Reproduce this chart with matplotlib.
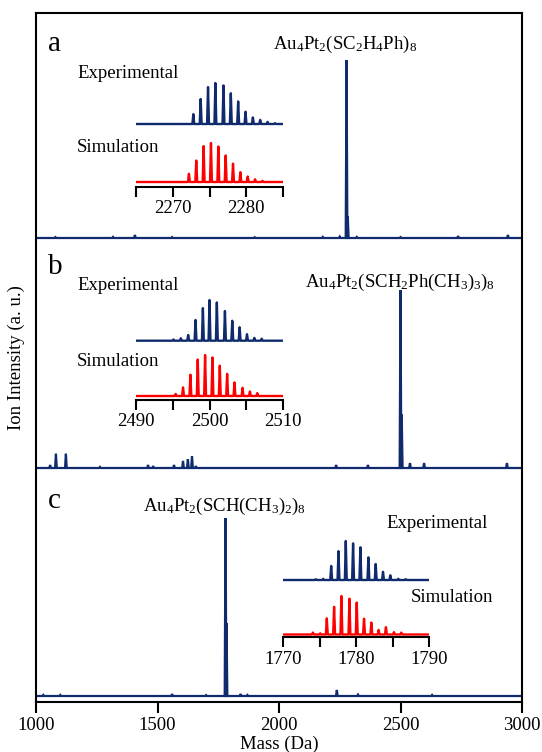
import numpy as np
import matplotlib
matplotlib.use('Agg')
from matplotlib import pyplot as plt

plt.rcParams['font.family'] = ['Liberation Serif', 'DejaVu Serif']
plt.rcParams['mathtext.fontset'] = 'custom'
plt.rcParams['mathtext.rm'] = 'Liberation Serif'
plt.rcParams['mathtext.it'] = 'Liberation Serif:italic'

navy = '#0f2b6e'
red = '#ff0000'
W, H = 542, 752

# main spectra (mass in Da, intensity relative to the main peak)
mass_a = [1080, 1317, 1407, 1560, 1900, 2180, 2250, 2278, 2283, 2320, 2500, 2737, 2942]
int_a = [0.005, 0.006, 0.017, 0.005, 0.004, 0.006, 0.008, 1.0, 0.12, 0.006, 0.005, 0.011, 0.017]

mass_b = [1058, 1082, 1123, 1263, 1461, 1482, 1568, 1605, 1625, 1642, 1658,
          2235, 2366, 2500, 2505, 2539, 2597, 2938]
int_b = [0.017, 0.08, 0.08, 0.006, 0.017, 0.011, 0.017, 0.04, 0.05, 0.067, 0.011,
         0.017, 0.017, 1.0, 0.3, 0.028, 0.028, 0.028]

mass_c = [1030, 1100, 1560, 1700, 1780, 1784, 1842, 1870, 2238, 2325, 2630]
int_c = [0.006, 0.006, 0.011, 0.005, 1.0, 0.41, 0.011, 0.006, 0.034, 0.008, 0.006]

# isotope patterns of the insets
exp_mass_a = [2272.8, 2273.8, 2274.8, 2275.8, 2276.9, 2277.9, 2278.9, 2279.9, 2280.9, 2281.9, 2282.9, 2283.9]
exp_int_a = [0.24, 0.61, 0.90, 1.0, 0.94, 0.75, 0.55, 0.30, 0.16, 0.10, 0.05, 0.02]
sim_mass_a = [2272.2, 2273.2, 2274.2, 2275.2, 2276.2, 2277.2, 2278.2, 2279.2, 2280.2, 2281.2, 2282.2]
sim_int_a = [0.21, 0.55, 0.92, 1.0, 0.91, 0.68, 0.47, 0.25, 0.14, 0.07, 0.03]

exp_mass_b = [2495.1, 2496.1, 2497.1, 2498.1, 2499.1, 2500.0, 2501.0, 2502.1, 2503.1, 2504.1, 2505.1, 2506.1, 2507.1]
exp_int_b = [0.03, 0.06, 0.14, 0.51, 0.80, 1.0, 0.94, 0.73, 0.49, 0.33, 0.16, 0.07, 0.05]
sim_mass_b = [2495.4, 2496.4, 2497.4, 2498.4, 2499.4, 2500.4, 2501.4, 2502.4, 2503.4, 2504.5, 2505.5, 2506.5]
sim_int_b = [0.05, 0.21, 0.52, 0.89, 1.0, 0.94, 0.74, 0.54, 0.33, 0.20, 0.11, 0.07]

exp_mass_c = [1774.5, 1775.5, 1776.6, 1777.6, 1778.6, 1779.6, 1780.6, 1781.7, 1782.7, 1783.7, 1784.7, 1785.8, 1786.8]
exp_int_c = [0.02, 0.03, 0.36, 0.74, 1.0, 0.94, 0.84, 0.58, 0.41, 0.21, 0.12, 0.03, 0.02]
sim_mass_c = [1774.1, 1775.1, 1776.0, 1777.0, 1778.0, 1779.1, 1780.1, 1781.1, 1782.1, 1783.1, 1784.1, 1785.2, 1786.2]
sim_int_c = [0.05, 0.03, 0.42, 0.72, 1.0, 0.93, 0.83, 0.41, 0.31, 0.12, 0.19, 0.06, 0.05]

ticks_main = [1000, 1500, 2000, 2500, 3000]
labels = ['a', 'b', 'c']
formulas = [r'Au$_4$Pt$_2$(SC$_2$H$_4$Ph)$_8$',
            r'Au$_4$Pt$_2$(SCH$_2$Ph(CH$_3$)$_3$)$_8$',
            r'Au$_4$Pt$_2$(SCH(CH$_3$)$_2$)$_8$']


def sticks(masses, heights, w, lo, hi):
    x, y = [lo], [0.0]
    for m, h in sorted(zip(masses, heights)):
        x += [m - w, m, m + w]
        y += [0.0, h, 0.0]
    x.append(hi)
    y.append(0.0)
    return np.array(x), np.array(y)


def ftext(x, y, s, **kw):
    fig.text(x / W, 1 - y / H, s, **kw)


fig = plt.figure(figsize=(W / 100, H / 100), dpi=100)

# main axes, y in pixel units above the bottom spine
ax = fig.add_axes([36 / W, (H - 702) / H, (522 - 36) / W, (702 - 13) / H])
ax.set_xlim(1000, 3000)
ax.set_ylim(0, 689)
scale = 178
for (m, i), base in zip([(mass_a, int_a), (mass_b, int_b), (mass_c, int_c)], [464, 234, 6]):
    x, y = sticks(m, i, 3.5, 1000, 3000)
    ax.plot(x, base + y * scale, color=navy, lw=1.6, solid_joinstyle='miter')
ax.set_xticks(ticks_main)
ax.set_yticks([])
ax.tick_params(axis='x', direction='out', length=8, width=1.5, labelsize=13.5, pad=3)
for s in ax.spines.values():
    s.set_linewidth(1.5)
ax.set_xlabel('Mass (Da)', fontsize=13.5, labelpad=1)
ax.set_ylabel('Ion Intensity (a. u.)', fontsize=13.5, labelpad=8)


def inset(left, right, axis_y, top_y, m0, m1, exp, sim, exp_base, exp_top, sim_base, sim_top):
    iax = fig.add_axes([left / W, (H - axis_y) / H, (right - left) / W, (axis_y - top_y) / H])
    iax.set_xlim(m0, m1)
    iax.set_ylim(0, axis_y - top_y)
    ex, ey = sticks(exp[0], exp[1], 0.13, m0, m1)
    sx, sy = sticks(sim[0], sim[1], 0.13, m0, m1)
    iax.plot(ex, (axis_y - exp_base) + ey * (exp_base - exp_top), color=navy, lw=1.7)
    iax.plot(sx, (axis_y - sim_base) + sy * (sim_base - sim_top), color=red, lw=1.7)
    ticks = np.arange(m0, m1 + 1, 5)
    iax.set_xticks(ticks)
    iax.set_xticklabels([str(t) if t % 10 == 0 else '' for t in ticks])
    iax.set_yticks([])
    iax.tick_params(axis='x', direction='out', length=7, width=1.5, labelsize=13.5, pad=3)
    iax.patch.set_alpha(0)
    for k in ['left', 'right', 'top']:
        iax.spines[k].set_visible(False)
    iax.spines['bottom'].set_linewidth(1.5)


inset(136, 283, 186.5, 78, 2265, 2285, (exp_mass_a, exp_int_a), (sim_mass_a, sim_int_a), 124, 83, 182, 143)
inset(136, 283, 399.5, 296, 2490, 2510, (exp_mass_b, exp_int_b), (sim_mass_b, sim_int_b), 340.7, 300, 396, 355)
inset(283, 429, 637, 538, 1770, 1790, (exp_mass_c, exp_int_c), (sim_mass_c, sim_int_c), 580, 541, 634.5, 596)

# panel letters and compound labels
for lab, y in zip(labels, [44, 267, 501]):
    ftext(48, y, lab, fontsize=21, va='center', ha='left')
ftext(345, 44, formulas[0], fontsize=13.5, va='center', ha='center')
ftext(400, 282, formulas[1], fontsize=13.5, va='center', ha='center')
ftext(224, 506, formulas[2], fontsize=13.5, va='center', ha='center')

ftext(77, 73, 'Experimental', fontsize=13.5, va='center', ha='left')
ftext(77, 147, 'Simulation', fontsize=13.5, va='center', ha='left')
ftext(77, 286, 'Experimental', fontsize=13.5, va='center', ha='left')
ftext(77, 361, 'Simulation', fontsize=13.5, va='center', ha='left')
ftext(488, 524, 'Experimental', fontsize=13.5, va='center', ha='right')
ftext(493, 597, 'Simulation', fontsize=13.5, va='center', ha='right')

fig.savefig('out.png', dpi=100)
